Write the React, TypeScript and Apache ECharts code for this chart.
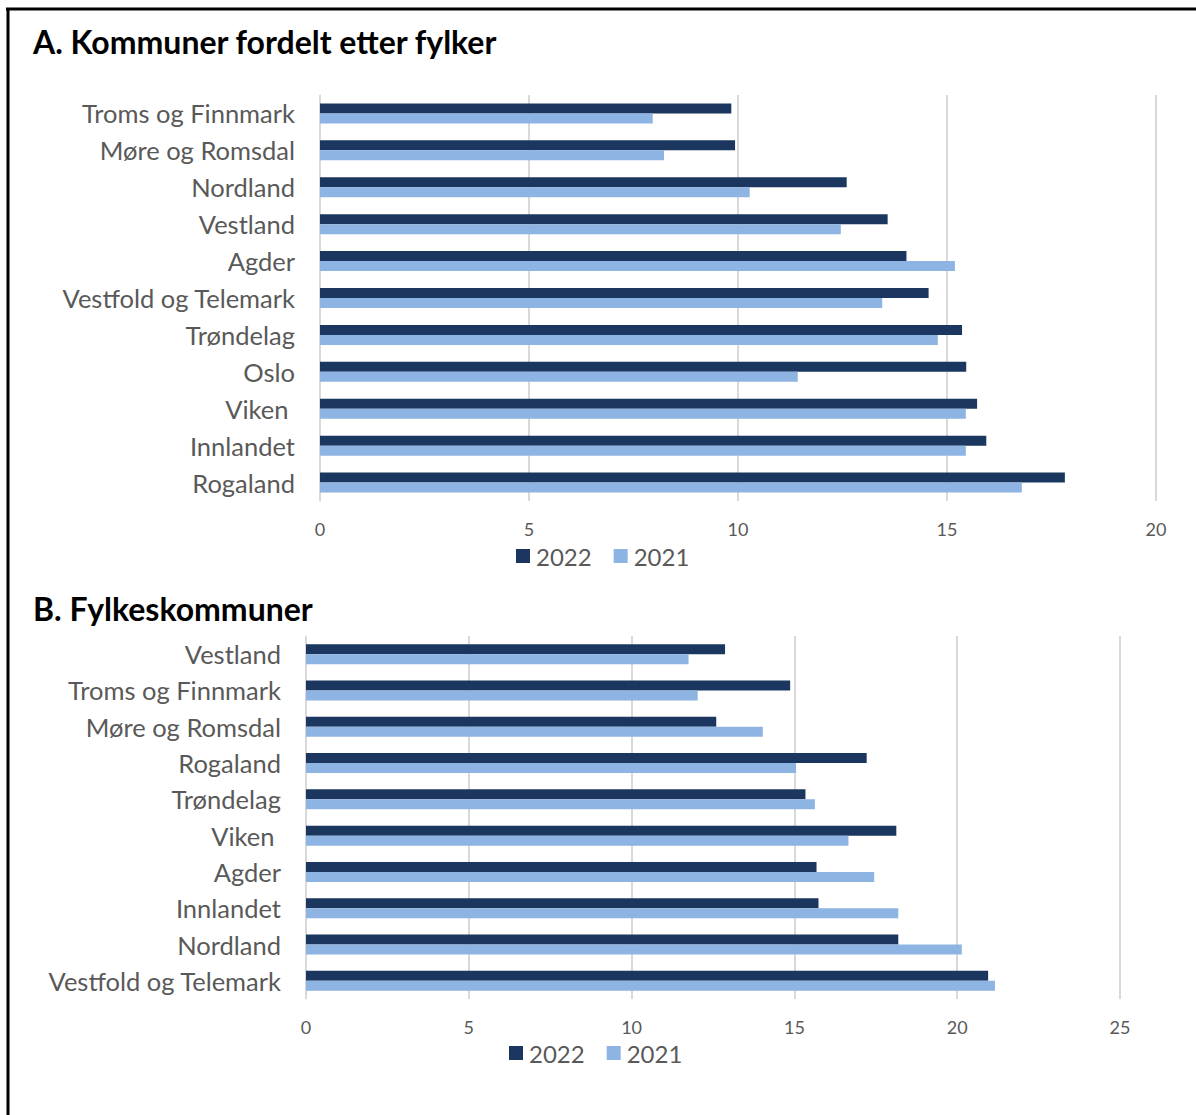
import React, { useEffect, useRef } from "react";
import * as echarts from "echarts";

const catsA = [
  "Troms og Finnmark",
  "Møre og Romsdal",
  "Nordland",
  "Vestland",
  "Agder",
  "Vestfold og Telemark",
  "Trøndelag",
  "Oslo",
  "Viken ",
  "Innlandet",
  "Rogaland",
];
const a2022 = [9.84, 9.93, 12.6, 13.58, 14.03, 14.56, 15.36, 15.46, 15.72, 15.94, 17.82];
const a2021 = [7.96, 8.23, 10.28, 12.46, 15.19, 13.45, 14.78, 11.43, 15.45, 15.45, 16.79];

const catsB = [
  "Vestland",
  "Troms og Finnmark",
  "Møre og Romsdal",
  "Rogaland",
  "Trøndelag",
  "Viken ",
  "Agder",
  "Innlandet",
  "Nordland",
  "Vestfold og Telemark",
];
const b2022 = [12.87, 14.87, 12.6, 17.22, 15.34, 18.13, 15.68, 15.74, 18.19, 20.95];
const b2021 = [11.75, 12.03, 14.03, 15.05, 15.63, 16.66, 17.45, 18.19, 20.14, 21.16];

const titleA = "A. Kommuner fordelt etter fylker";
const titleB = "B. Fylkeskommuner";
const years = ["2022", "2021"];

const DARK = "#1B375F";
const LIGHT = "#8EB4E3";
const TXT = "#595959";
const FONT = "Lato, 'Liberation Sans', sans-serif";

export default function App() {
  const ref = useRef<HTMLDivElement>(null);
  useEffect(() => {
    if (!ref.current) return;
    const chart = echarts.init(ref.current, undefined, { renderer: "svg" });
    const catAxis = (gridIndex: number, data: string[]) => ({
      type: "category",
      gridIndex,
      data,
      inverse: true,
      axisLine: { show: true, lineStyle: { color: "#d9d9d9", width: 1 } },
      axisTick: { show: false },
      axisLabel: { color: TXT, fontSize: 25.5, fontFamily: FONT, margin: 25 },
    });
    const valAxis = (gridIndex: number, max: number) => ({
      type: "value",
      gridIndex,
      min: 0,
      max,
      interval: 5,
      axisLine: { show: false },
      axisTick: { show: false },
      splitLine: { show: true, lineStyle: { color: "#d9d9d9", width: 2 } },
      axisLabel: { color: TXT, fontSize: 18, fontFamily: FONT, margin: 19 },
    });
    const bar = (name: string, data: number[], idx: number, color: string) => ({
      type: "bar",
      name,
      data,
      xAxisIndex: idx,
      yAxisIndex: idx,
      barWidth: 10,
      barGap: "0%",
      itemStyle: { color },
    });
    const legend = (left: number, top: number) => ({
      data: years,
      left,
      top,
      itemWidth: 14,
      itemHeight: 14,
      itemGap: 22,
      icon: "rect",
      selectedMode: false,
      textStyle: { color: TXT, fontSize: 24, fontFamily: FONT, padding: [0, 0, 0, 1] },
    });
    const titleStyle = { fontSize: 32, fontWeight: "bold", color: "#000", fontFamily: FONT };
    chart.setOption({
      animation: false,
      backgroundColor: "#ffffff",
      title: [
        { text: titleA, left: 28, top: 20, textStyle: titleStyle },
        { text: titleB, left: 28, top: 587, textStyle: titleStyle },
      ],
      legend: [legend(511, 539), legend(504, 1036)],
      grid: [
        { left: 320, top: 95, width: 836, height: 406 },
        { left: 306, top: 636, width: 814, height: 363 },
      ],
      xAxis: [valAxis(0, 20), valAxis(1, 25)],
      yAxis: [catAxis(0, catsA), catAxis(1, catsB)],
      series: [
        bar(years[0], a2022, 0, DARK),
        bar(years[1], a2021, 0, LIGHT),
        bar(years[0], b2022, 1, DARK),
        bar(years[1], b2021, 1, LIGHT),
      ],
      graphic: [
        { type: "line", shape: { x1: 6, y1: 9, x2: 1196, y2: 9 }, style: { stroke: "#000", lineWidth: 3 } },
        { type: "line", shape: { x1: 8, y1: 8, x2: 8, y2: 1115 }, style: { stroke: "#000", lineWidth: 3 } },
      ],
    });
    return () => chart.dispose();
  }, []);
  return (
    <div
      ref={ref}
      style={{ position: "absolute", left: 0, top: 0, width: 1196, height: 1115 }}
    />
  );
}
